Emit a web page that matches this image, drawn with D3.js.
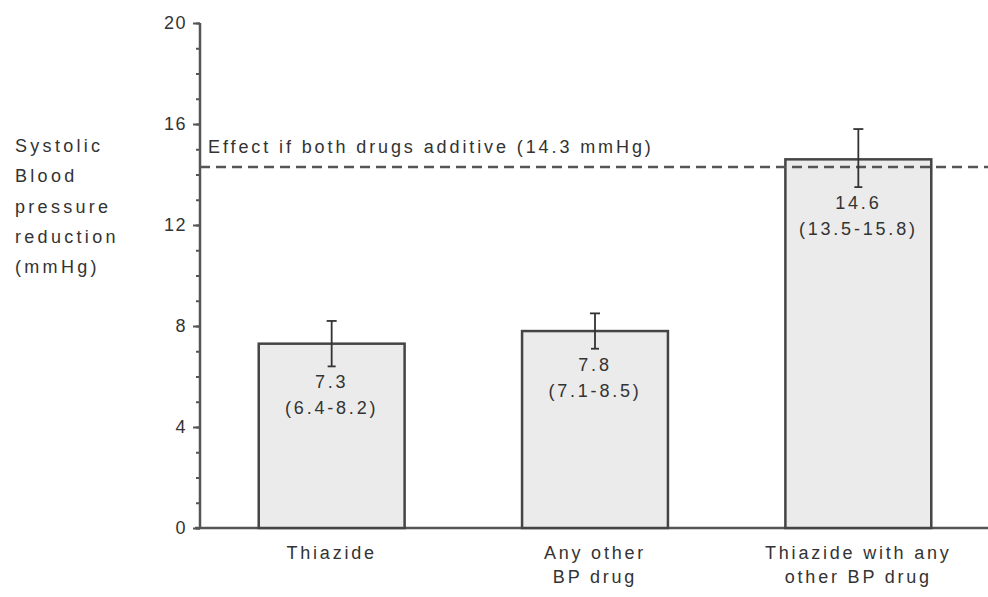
<!DOCTYPE html>
<html>
<head>
<meta charset="utf-8">
<script src="https://cdn.jsdelivr.net/npm/d3@7"></script>
<style>
  body { margin: 0; background: #fff; }
  svg text { font-family: "Liberation Sans", Arial, sans-serif; fill: #333; }
</style>
</head>
<body>
<svg id="chart" width="988" height="597"></svg>
<script>
// chart data
const categories = ['Thiazide', 'Any other BP drug', 'Thiazide with any other BP drug'];
const categoryLines = [['Thiazide'], ['Any other', 'BP drug'], ['Thiazide with any', 'other BP drug']];
const values = [7.3, 7.8, 14.6];
const lower = [6.4, 7.1, 13.5];
const upper = [8.2, 8.5, 15.8];
const yTicks = [0, 4, 8, 12, 16, 20];
const additive = 14.3;
const additiveLabel = 'Effect if both drugs additive (14.3 mmHg)';
const yTitle = ['Systolic', 'Blood', 'pressure', 'reduction', '(mmHg)'];

const svg = d3.select('#chart');
const x = d3.scaleBand().domain(categories).range([200, 990]).paddingInner(0.446).paddingOuter(0.223);
const y = d3.scaleLinear().domain([0, 20]).range([528, 23]);

// minor ticks
svg.append('g')
  .attr('transform', 'translate(200,0)')
  .call(d3.axisLeft(y).tickValues(d3.range(0, 21, 1)).tickSize(4).tickSizeOuter(0).tickFormat(''))
  .call(g => g.select('.domain').remove())
  .call(g => g.selectAll('line').attr('stroke', '#555').attr('stroke-width', 2));

// major ticks + labels
svg.append('g')
  .attr('transform', 'translate(200,0)')
  .call(d3.axisLeft(y).tickValues(yTicks).tickSize(7).tickSizeOuter(0).tickPadding(6))
  .call(g => g.select('.domain').remove())
  .call(g => g.selectAll('line').attr('stroke', '#555').attr('stroke-width', 2))
  .call(g => g.selectAll('text').attr('font-size', 18).attr('letter-spacing', 1.5).attr('fill', '#444')
    .attr('font-family', '"Liberation Sans", Arial, sans-serif'));

// axis lines
svg.append('line').attr('x1', 200).attr('x2', 200).attr('y1', y(20)).attr('y2', y(0))
  .attr('stroke', '#555').attr('stroke-width', 2.5);
svg.append('line').attr('x1', 195).attr('x2', 988).attr('y1', y(0)).attr('y2', y(0))
  .attr('stroke', '#555').attr('stroke-width', 2.5);

// y title
svg.append('text')
  .attr('font-size', 18).attr('letter-spacing', 3.3)
  .selectAll('tspan').data(yTitle).join('tspan')
  .attr('x', 15).attr('y', (d, i) => 152 + i * 30.3)
  .text(d => d);

// bars
svg.selectAll('rect.bar').data(categories).join('rect')
  .attr('class', 'bar')
  .attr('x', d => x(d))
  .attr('y', (d, i) => y(values[i]))
  .attr('width', x.bandwidth())
  .attr('height', (d, i) => y(0) - y(values[i]))
  .attr('fill', '#ebebeb')
  .attr('stroke', '#444')
  .attr('stroke-width', 2.5);

// additive line
svg.append('line')
  .attr('x1', 200).attr('x2', 988).attr('y1', y(additive)).attr('y2', y(additive))
  .attr('stroke', '#555').attr('stroke-width', 2.5).attr('stroke-dasharray', '10,6');
svg.append('text')
  .attr('x', 208).attr('y', 153)
  .attr('font-size', 18).attr('letter-spacing', 2.9)
  .text(additiveLabel);

// error bars
const err = svg.append('g').attr('stroke', '#333').attr('stroke-width', 1.8);
categories.forEach((c, i) => {
  const cx = x(c) + x.bandwidth() / 2;
  err.append('line').attr('x1', cx).attr('x2', cx).attr('y1', y(upper[i])).attr('y2', y(lower[i]));
  err.append('line').attr('x1', cx - 5).attr('x2', cx + 5).attr('y1', y(upper[i])).attr('y2', y(upper[i]));
  err.append('line').attr('x1', cx - 4).attr('x2', cx + 4).attr('y1', y(lower[i])).attr('y2', y(lower[i]));
});

// value labels
categories.forEach((c, i) => {
  const cx = x(c) + x.bandwidth() / 2;
  const t = svg.append('text').attr('text-anchor', 'middle').attr('font-size', 18).attr('letter-spacing', 2.8);
  t.append('tspan').attr('x', cx).attr('y', y(lower[i]) + 22).text(values[i].toFixed(1));
  t.append('tspan').attr('x', cx).attr('y', y(lower[i]) + 48).text(`(${lower[i].toFixed(1)}-${upper[i].toFixed(1)})`);
});

// category labels
categories.forEach((c, i) => {
  const cx = x(c) + x.bandwidth() / 2;
  svg.append('text').attr('text-anchor', 'middle').attr('font-size', 18).attr('letter-spacing', 2.8)
    .selectAll('tspan').data(categoryLines[i]).join('tspan')
    .attr('x', cx).attr('y', (d, j) => 559 + j * 24)
    .text(d => d);
});
</script>
</body>
</html>
